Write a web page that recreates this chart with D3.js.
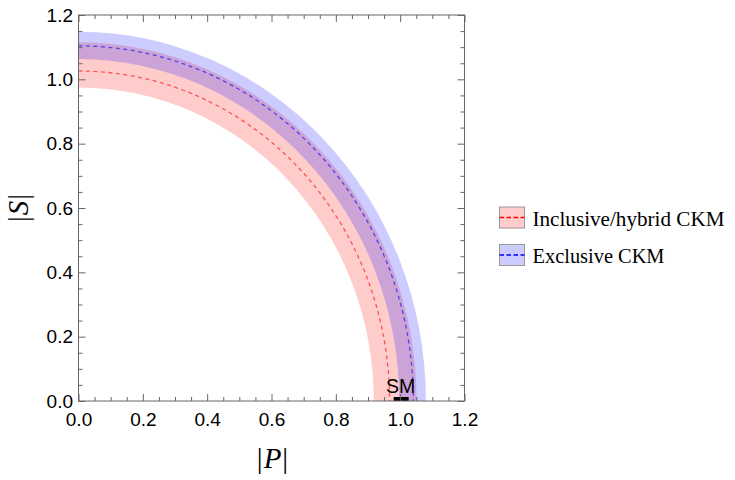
<!DOCTYPE html>
<html>
<head>
<meta charset="utf-8">
<script src="https://cdn.jsdelivr.net/npm/d3@7"></script>
<style>
  body { margin: 0; background: #fff; }
  svg { display: block; }
</style>
</head>
<body>
<svg id="chart" width="735" height="480"></svg>
<script>
// band edges: intercepts on the |P| and |S| axes
var bandNames = ['Inclusive/hybrid CKM', 'Exclusive CKM'];
var bandFill = ['#ff0000', '#0000ff'];
var pLow  = [0.918, 0.997];
var pMid  = [0.967, 1.041];
var pHigh = [1.051, 1.080];
var sLow  = [0.975, 1.063];
var sMid  = [1.026, 1.104];
var sHigh = [1.115, 1.148];

var smPoint = [1.0, 0.0];
var smLabel = 'SM';

var majorTicks = [0, 0.2, 0.4, 0.6, 0.8, 1.0, 1.2];
var minorTicks = [0.05, 0.1, 0.15, 0.25, 0.3, 0.35, 0.45, 0.5, 0.55, 0.65, 0.7, 0.75,
                  0.85, 0.9, 0.95, 1.05, 1.1, 1.15];

var svg = d3.select('#chart');
var x = d3.scaleLinear().domain([0, 1.2]).range([78.5, 464.5]);
var y = d3.scaleLinear().domain([0, 1.2]).range([401, 15]);

svg.append('clipPath').attr('id', 'plotclip')
  .append('rect')
  .attr('x', x(0)).attr('y', y(1.2))
  .attr('width', x(1.2) - x(0)).attr('height', y(0) - y(1.2));

var plot = svg.append('g').attr('clip-path', 'url(#plotclip)');

function arcTo(p, s, sweep) {
  var rx = x(p) - x(0), ry = y(0) - y(s);
  return 'A' + rx + ',' + ry + ' 0 0 ' + sweep + ' ';
}

function bandPath(i) {
  return 'M' + x(pHigh[i]) + ',' + y(0) +
    arcTo(pHigh[i], sHigh[i], 0) + x(0) + ',' + y(sHigh[i]) +
    'L' + x(0) + ',' + y(sLow[i]) +
    arcTo(pLow[i], sLow[i], 1) + x(pLow[i]) + ',' + y(0) + 'Z';
}

function midPath(i) {
  return 'M' + x(0) + ',' + y(sMid[i]) +
    arcTo(pMid[i], sMid[i], 1) + x(pMid[i]) + ',' + y(0);
}

plot.selectAll('path.band')
  .data(bandNames)
  .enter().append('path')
  .attr('class', 'band')
  .attr('d', function(d, i) { return bandPath(i); })
  .attr('fill', function(d, i) { return bandFill[i]; })
  .attr('fill-opacity', 0.2);

plot.selectAll('path.mid')
  .data(bandNames)
  .enter().append('path')
  .attr('class', 'mid')
  .attr('d', function(d, i) { return midPath(i); })
  .attr('fill', 'none')
  .attr('stroke', function(d, i) { return bandFill[i]; })
  .attr('stroke-opacity', 0.6)
  .attr('stroke-width', 1.3)
  .attr('stroke-dasharray', '4,3.5');

// SM point
plot.append('rect')
  .attr('x', x(smPoint[0]) - 6.5)
  .attr('y', y(smPoint[1]) - 4)
  .attr('width', 15).attr('height', 8)
  .attr('fill', '#000');

svg.append('text')
  .attr('x', x(smPoint[0]) + 0.5)
  .attr('y', y(smPoint[1]) - 8)
  .attr('text-anchor', 'middle')
  .style('font-family', 'Liberation Sans, Arial, sans-serif')
  .style('font-size', '19.5px')
  .text(smLabel);

// frame and ticks
var fmt = d3.format('.1f');
function styleAxis(g) {
  g.select('.domain').remove();
  g.selectAll('line').attr('stroke', '#666');
  g.selectAll('text')
    .style('font-family', 'Liberation Sans, Arial, sans-serif')
    .style('font-size', '19px')
    .attr('fill', '#000');
}

var axes = [
  { gen: d3.axisBottom(x), tr: 'translate(0,' + y(0) + ')', labels: true, pad: 11.5 },
  { gen: d3.axisTop(x), tr: 'translate(0,' + y(1.2) + ')', labels: false, pad: 3 },
  { gen: d3.axisLeft(y), tr: 'translate(' + x(0) + ',0)', labels: true, pad: 5.5 },
  { gen: d3.axisRight(y), tr: 'translate(' + x(1.2) + ',0)', labels: false, pad: 3 }
];

axes.forEach(function(a) {
  var major = a.gen.tickValues(majorTicks).tickSize(-7).tickPadding(a.pad)
    .tickFormat(a.labels ? fmt : function() { return ''; });
  svg.append('g').attr('transform', a.tr).call(major).call(styleAxis);
});

[d3.axisBottom(x), d3.axisTop(x), d3.axisLeft(y), d3.axisRight(y)].forEach(function(gen, k) {
  var tr = axes[k].tr;
  svg.append('g').attr('transform', tr)
    .call(gen.tickValues(minorTicks).tickSize(-4).tickFormat(function() { return ''; }))
    .call(styleAxis);
});

svg.append('rect')
  .attr('x', x(0)).attr('y', y(1.2))
  .attr('width', x(1.2) - x(0)).attr('height', y(0) - y(1.2))
  .attr('fill', 'none').attr('stroke', '#666').attr('stroke-width', 1);

// axis titles
function mathLabel(sel, letter) {
  sel.style('font-family', 'Liberation Serif, Times New Roman, serif')
    .style('font-size', '29px');
  sel.append('tspan').text('|');
  sel.append('tspan').style('font-style', 'italic').attr('dx', 1).text(letter);
  sel.append('tspan').attr('dx', 1).text('|');
}

svg.append('text')
  .attr('x', (x(0) + x(1.2)) / 2 + 1)
  .attr('y', 468)
  .attr('text-anchor', 'middle')
  .call(mathLabel, 'P');

svg.append('text')
  .attr('transform', 'translate(28,' + ((y(0) + y(1.2)) / 2) + ') rotate(-90)')
  .attr('text-anchor', 'middle')
  .call(mathLabel, 'S');

// legend
var legendWidth = [192, 132];
var legend = svg.append('g').attr('transform', 'translate(499.5,207)');
var rows = legend.selectAll('g')
  .data(bandNames)
  .enter().append('g')
  .attr('transform', function(d, i) { return 'translate(0,' + (i * 37.5) + ')'; });

rows.append('rect')
  .attr('width', 25).attr('height', 21)
  .attr('fill', function(d, i) { return bandFill[i]; })
  .attr('fill-opacity', 0.2)
  .attr('stroke', '#999').attr('stroke-width', 1);

rows.append('line')
  .attr('x1', 0).attr('x2', 25)
  .attr('y1', 10.5).attr('y2', 10.5)
  .attr('stroke', function(d, i) { return bandFill[i]; })
  .attr('stroke-width', 1.6)
  .attr('stroke-dasharray', '4.5,2.5');

rows.append('text')
  .attr('x', 33).attr('y', 18.5)
  .attr('textLength', function(d, i) { return legendWidth[i]; })
  .attr('lengthAdjust', 'spacingAndGlyphs')
  .style('font-family', 'Liberation Serif, Times New Roman, serif')
  .style('font-size', '20px')
  .text(function(d) { return d; });
</script>
</body>
</html>
